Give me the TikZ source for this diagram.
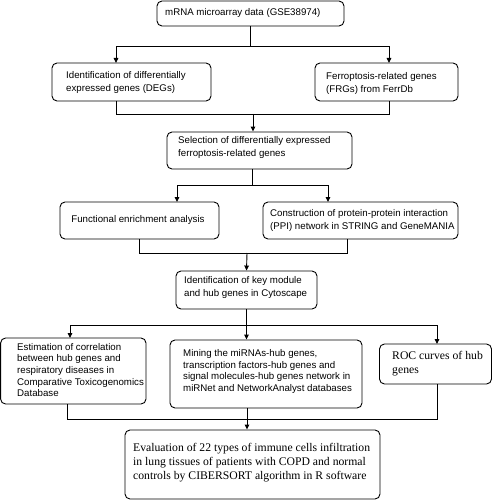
\documentclass[tikz,border=0pt]{standalone}
\usepackage{fontspec}
\setmainfont{Liberation Sans}
\newfontfamily\seriffont{Liberation Serif}
\usetikzlibrary{arrows.meta}
\begin{document}
\begin{tikzpicture}[x=1pt,y=-1pt,
  box/.style={draw, line width=0.9pt, rounded corners=5pt, inner sep=0pt},
  txt/.style={inner sep=0pt, anchor=west, align=left, font=\fontsize{9.7}{13}\selectfont},
  txts/.style={inner sep=0pt, anchor=west, align=left, font=\fontsize{9.7}{11.6}\selectfont},
  txtr/.style={inner sep=0pt, anchor=west, align=left, font=\seriffont\fontsize{11.7}{14}\selectfont},
  ln/.style={line width=0.9pt},
  arr/.style={line width=0.9pt, -{Triangle[length=5pt,width=4.6pt]}}]
\useasboundingbox (0,0) rectangle (493,500);

% boxes
\node[box, minimum width=187pt, minimum height=25pt] (b1) at (250.5,13.5) {};
\node[box, minimum width=159pt, minimum height=38pt] (b2a) at (131.5,82) {};
\node[box, minimum width=143pt, minimum height=38pt] (b2b) at (386.5,82) {};
\node[box, minimum width=185pt, minimum height=37pt] (b3) at (259.5,150.5) {};
\node[box, minimum width=159pt, minimum height=37pt] (b4a) at (139.5,220.5) {};
\node[box, minimum width=195pt, minimum height=37pt] (b4b) at (360.5,220.5) {};
\node[box, minimum width=141pt, minimum height=38pt] (b5) at (246.5,290) {};
\node[box, minimum width=145.4pt, minimum height=66pt] (b6a) at (73.3,371) {};
\node[box, minimum width=192pt, minimum height=68pt] (b6b) at (266,374) {};
\node[box, minimum width=112pt, minimum height=40pt] (b6c) at (435.5,364) {};
\node[box, minimum width=255pt, minimum height=69pt] (b7) at (252.5,464.5) {};

% texts
\node[txt] (t1) at (165,13) {mRNA microarray data (GSE38974)};
\node[txt] (t2a) at (66,82.5) {Identification of differentially\\expressed genes (DEGs)};
\node[txt] (t2b) at (326,83.5) {Ferroptosis-related genes\\(FRGs) from FerrDb};
\node[txt] (t3) at (178,147.5) {Selection of differentially expressed\\ferroptosis-related genes};
\node[txt, anchor=center] (t4a) at (138,219.5) {Functional enrichment analysis};
\node[txt] (t4b) at (270,220.5) {Construction of protein-protein interaction\\(PPI) network in STRING and GeneMANIA};
\node[txt] (t5) at (184,287.5) {Identification of key module\\and hub genes in Cytoscape};
\node[txts] (t6a) at (17,370) {Estimation of correlation\\between hub genes and\\respiratory diseases in\\Comparative Toxicogenomics\\Database};
\node[txts] (t6b) at (183,371.5) {Mining the miRNAs-hub genes,\\transcription factors-hub genes and\\signal molecules-hub genes network in\\miRNet and NetworkAnalyst databases};
\node[txtr] (t6c) at (392,363.5) {ROC curves of hub\\genes};
\node[txtr] (t7) at (133,463) {Evaluation of 22 types of immune cells infiltration\\in lung tissues of patients with COPD and normal\\controls by CIBERSORT algorithm in R software};

% connector points
\coordinate (c2a) at (116,63);
\coordinate (c2b) at (389,63);
\coordinate (s2a) at (116,101);
\coordinate (s2b) at (389,101);
\coordinate (m2) at (253,114);
\coordinate (s3) at (252,169);
\coordinate (c4a) at (177,202);
\coordinate (c4b) at (328,202);
\coordinate (s4a) at (139,239);
\coordinate (s4b) at (347,239);
\coordinate (m4) at (247,253);
\coordinate (c6a) at (70,338);
\coordinate (c6c) at (437,344);
\coordinate (s6a) at (67,404);
\coordinate (s6c) at (437,384);
\coordinate (s6b) at (247,408);

% connectors
\draw[arr] (b1.south) -- ++(0,20) -| (c2a);
\draw[arr] (b1.south) -- ++(0,20) -| (c2b);
\draw[ln] (s2a) -- ++(0,13) -| (s2b);
\draw[arr] (m2) -- (m2 |- b3.north);
\draw[arr] (s3) -- ++(0,16) -| (c4a);
\draw[arr] (s3) -- ++(0,16) -| (c4b);
\draw[ln] (s4a) -- ++(0,14) -| (s4b);
\draw[arr] (m4) -- (b5.north);
\draw[arr] (b5.south) -- ++(0,16) -| (c6a);
\draw[arr] (b5.south) -- ++(0,16) -| (c6c);
\draw[arr] (b5.south) -- (b6b.north -| b5.south);
\draw[ln] (s6a) -- ++(0,15) -| (s6c);
\draw[arr] (s6b) -- (s6b |- b7.north);
\end{tikzpicture}
\end{document}
